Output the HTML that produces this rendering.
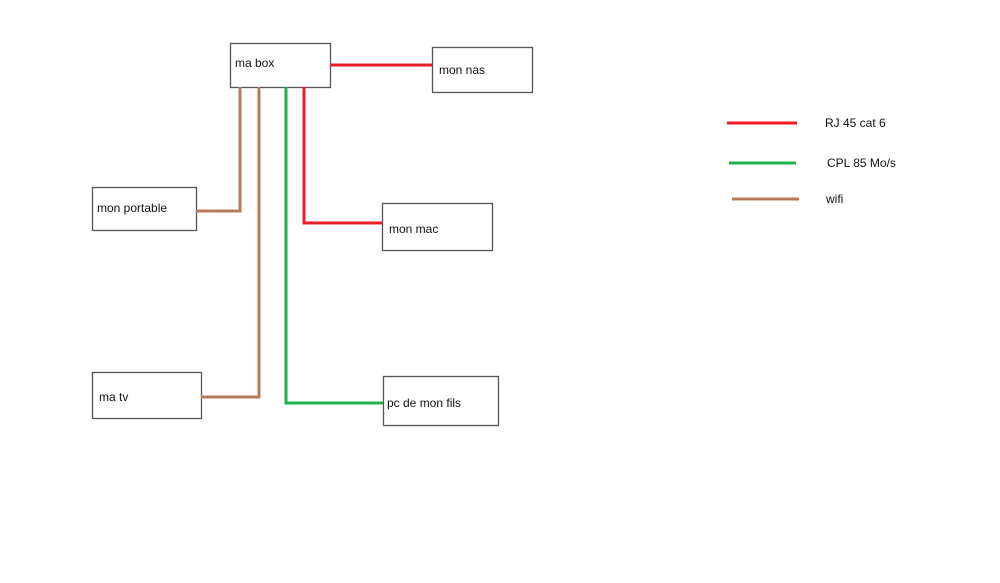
<!DOCTYPE html>
<html><head><meta charset="utf-8"><style>
html,body{margin:0;padding:0;background:#fff;}
svg{display:block;}
text{font-family:"Liberation Sans",sans-serif;font-size:12px;fill:#111;}
</style></head><body>
<svg width="1000" height="583" viewBox="0 0 1000 583" xmlns="http://www.w3.org/2000/svg">
<rect width="1000" height="583" fill="#fff"/>
<g fill="none" stroke="#555" stroke-width="1.3">
<rect x="230.5" y="43.5" width="100" height="44"/>
<rect x="432.5" y="47.5" width="100" height="45"/>
<rect x="382.5" y="203.5" width="110" height="47"/>
<rect x="92.5" y="187.5" width="104" height="43"/>
<rect x="92.5" y="372.5" width="109" height="46"/>
<rect x="383.5" y="376.5" width="115" height="49"/>
</g>
<g fill="none" stroke-width="3">
<polyline points="330,65 432,65" stroke="#ee1c24"/>
<polyline points="304,87 304,223 382,223" stroke="#ee1c24"/>
<polyline points="286,87 286,403 383,403" stroke="#22b14c"/>
<polyline points="240,87 240,211 196,211" stroke="#b97a57"/>
<polyline points="259,87 259,397 201,397" stroke="#b97a57"/>
<line x1="727" y1="123" x2="797" y2="123" stroke="#ee1c24"/>
<line x1="729" y1="163" x2="796" y2="163" stroke="#22b14c"/>
<line x1="732" y1="199" x2="799" y2="199" stroke="#b97a57"/>
</g>
<text x="235" y="67">ma box</text>
<text x="439" y="74">mon nas</text>
<text x="389" y="233">mon mac</text>
<text x="97" y="212">mon portable</text>
<text x="99" y="401">ma tv</text>
<text x="387" y="407">pc de mon fils</text>
<text x="825" y="127">RJ 45 cat 6</text>
<text x="827" y="167">CPL 85 Mo/s</text>
<text x="826" y="203">wifi</text>
</svg>
</body></html>
